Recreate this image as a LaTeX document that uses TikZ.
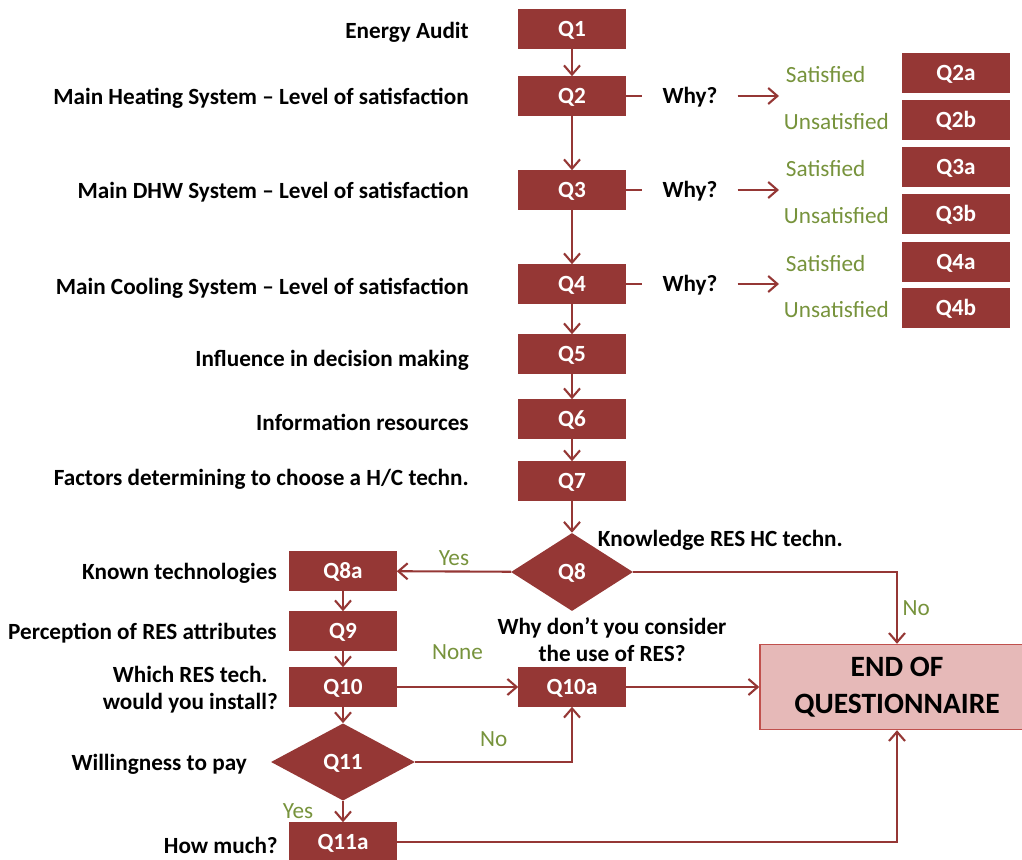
\documentclass[tikz,border=0pt]{standalone}
\usepackage{fontspec}
\setmainfont{Carlito}
\usepackage{tikz}
\usetikzlibrary{shapes.geometric,arrows.meta,positioning}
\definecolor{qred}{HTML}{953735}
\definecolor{qpink}{HTML}{E6B9B8}
\definecolor{qrim}{HTML}{C0504D}
\definecolor{qgreen}{HTML}{77933C}
\newcommand{\qfont}{\bfseries\fontsize{16.5}{19}\selectfont}
\newcommand{\afont}{\fontsize{16.5}{19}\selectfont}

\begin{document}
\begin{tikzpicture}[x=0.025cm, y=-0.025cm,
    qbox/.style={rectangle, fill=qred, text=white, font=\qfont, minimum width=2.675cm, minimum height=0.975cm, inner sep=0pt, text height=10.6pt, text depth=0pt},
    qdiam/.style={diamond, fill=qred, text=white, font=\qfont, inner sep=0pt, text height=10.6pt, text depth=0pt},
    lbl/.style={font=\qfont, anchor=east, align=center, inner sep=0pt},
    ans/.style={text=qgreen, font=\afont},
    why/.style={font=\qfont, inner xsep=0.5cm},
    flow/.style={draw=qred, line width=1.5pt, -{Straight Barb[length=2.3mm,width=4mm]}},
    link/.style={draw=qred, line width=1.5pt}]
    \clip (0,0) rectangle (1022,860);
    % main column
    \node[qbox] (q1) at (572,29) {Q1};
    \node[qbox] (q2) at (572,96) {Q2};
    \node[qbox] (q3) at (572,190) {Q3};
    \node[qbox] (q4) at (572,284) {Q4};
    \node[qbox] (q5) at (572,354) {Q5};
    \node[qbox] (q6) at (572,419) {Q6};
    \node[qbox] (q7) at (572,481) {Q7};
    \node[qdiam, minimum width=3.05cm, minimum height=1.95cm] (q8) at (572,572) {Q8};
    \node[qbox] (q10a) at (572,687) {Q10a};
    % left column
    \node[qbox] (q8a) at (343,571) {Q8a};
    \node[qbox] (q9) at (343,631) {Q9};
    \node[qbox] (q10) at (343,687) {Q10};
    \node[qdiam, minimum width=3.6cm, minimum height=1.93cm] (q11) at (343,762) {Q11};
    \node[qbox] (q11a) at (343,842) {Q11a};
    % right column
    \node[qbox] (q2a) at (956,73) {Q2a};
    \node[qbox] (q2b) at (956,120) {Q2b};
    \node[qbox] (q3a) at (956,167) {Q3a};
    \node[qbox] (q3b) at (956,214) {Q3b};
    \node[qbox] (q4a) at (956,262) {Q4a};
    \node[qbox] (q4b) at (956,308) {Q4b};
    \node[rectangle, fill=qpink, draw=qrim, line width=1pt, minimum width=6.85cm, minimum height=2.125cm,
          align=center, font=\bfseries\fontsize{21}{26}\selectfont] (qend) at (897,687) {END OF\\QUESTIONNAIRE};

    % question texts
    \node[lbl] (t1) at (469,32) {Energy Audit};
    \node[lbl] (t2) at (469,98) {Main Heating System -- Level of satisfaction};
    \node[lbl] (t3) at (469,192) {Main DHW System -- Level of satisfaction};
    \node[lbl] (t4) at (469,288) {Main Cooling System -- Level of satisfaction};
    \node[lbl] (t5) at (469,360) {Influence in decision making};
    \node[lbl] (t6) at (469,422) {Information resources};
    \node[lbl] (t7) at (469,479) {Factors determining to choose a H/C techn.};
    \node[lbl] (t8a) at (277,573) {Known technologies};
    \node[lbl] (t9) at (277,633) {Perception of RES attributes};
    \node[lbl] (t10) at (278,690) {Which RES tech.\\would you install?};
    \node[lbl] (t11) at (247,764) {Willingness to pay};
    \node[lbl] (t11a) at (278,845) {How much?};
    \node[font=\qfont, anchor=west] (t8) at (593,540) {Knowledge RES HC techn.};
    \node[font=\qfont, align=center] (t10a) at (612,640) {Why don’t you consider\\the use of RES?};

    % why branches
    \node[why] (why2) at (690,97) {Why?};
    \node[why] (why3) at (690,191) {Why?};
    \node[why] (why4) at (690,285) {Why?};
    \coordinate (w2) at (779,96);
    \coordinate (w3) at (779,190);
    \coordinate (w4) at (779,284);
    \node[ans, anchor=west] (s2) at (781,75) {Satisfied};
    \node[ans, anchor=west] (u2) at (779,122) {Unsatisfied};
    \node[ans, anchor=west] (s3) at (781,169) {Satisfied};
    \node[ans, anchor=west] (u3) at (779,216) {Unsatisfied};
    \node[ans, anchor=west] (s4) at (781,264) {Satisfied};
    \node[ans, anchor=west] (u4) at (779,310) {Unsatisfied};
    \draw[link] (q2.east) -- (why2.west |- q2.east);
    \draw[link] (q3.east) -- (why3.west |- q3.east);
    \draw[link] (q4.east) -- (why4.west |- q4.east);
    \draw[flow] (why2.east |- w2) -- (w2);
    \draw[flow] (why3.east |- w3) -- (w3);
    \draw[flow] (why4.east |- w4) -- (w4);

    % connectors
    \draw[flow] (q1) -- (q2);
    \draw[flow] (q2) -- (q3);
    \draw[flow] (q3) -- (q4);
    \draw[flow] (q4) -- (q5);
    \draw[flow] (q5) -- (q6);
    \draw[flow] (q6) -- (q7);
    \draw[flow] (q7) -- (q8);
    \draw[flow] (q8) -- node[ans, above] {Yes} (q8a);
    \draw[flow] (q8.east) -| node[ans, pos=0.75, right] {No} (qend.north);
    \draw[flow] (q8a) -- (q9);
    \draw[flow] (q9) -- (q10);
    \draw[flow] (q10) -- (q11);
    \draw[flow] (q11) -- node[ans, left=0.6cm] {Yes} (q11a);
    \draw[flow] (q10) -- node[ans, above=0.55cm] {None} (q10a);
    \draw[flow] (q10a) -- (qend);
    \draw[flow] (q11.east) -| node[ans, pos=0.25, above=0.25cm] {No} (q10a.south);
    \draw[flow] (q11a.east) -| (qend.south);
\end{tikzpicture}
\end{document}
